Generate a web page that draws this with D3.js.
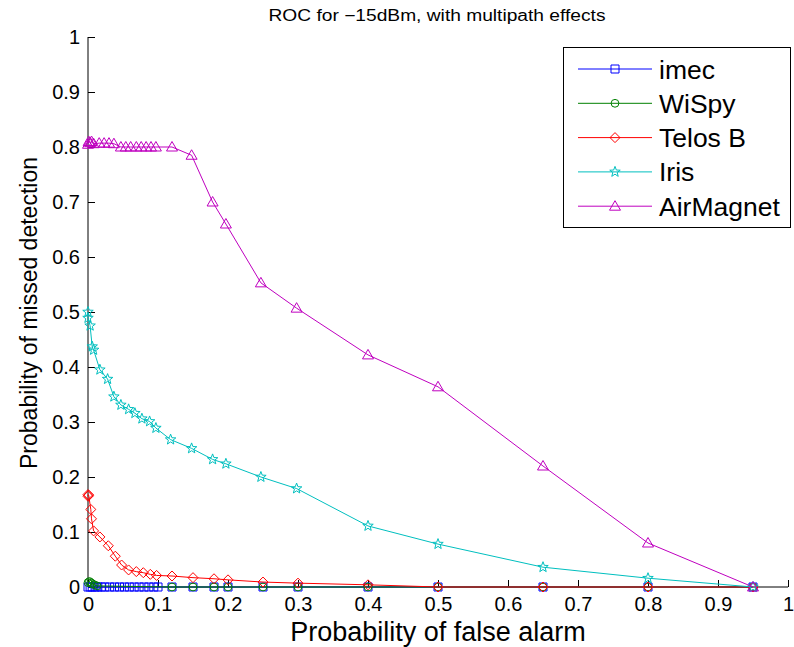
<!DOCTYPE html>
<html><head><meta charset="utf-8">
<script src="https://cdn.jsdelivr.net/npm/d3@7"></script>
<style>body{margin:0;background:#fff}svg{display:block}text{font-family:"Liberation Sans",Arial,sans-serif}</style>
</head><body><div id="chart"></div>
<script>
const seriesNames = ["imec","WiSpy","Telos B","Iris","AirMagnet"];
const seriesColors = ["#0000ff","#008000","#ff0000","#00bfbf","#bf00bf"];
const seriesMarkers = ["square","circle","diamond","star","triangle"];
const xTicks = [0,0.1,0.2,0.3,0.4,0.5,0.6,0.7,0.8,0.9,1];
const yTicks = [0,0.1,0.2,0.3,0.4,0.5,0.6,0.7,0.8,0.9,1];

const imecX = [0,0.003,0.006,0.01,0.014,0.019,0.024,0.031,0.038,0.045,0.052,0.059,0.066,0.073,0.080,0.087,0.094,0.10,0.12,0.15,0.18,0.2,0.25,0.3,0.4,0.5,0.65,0.8,0.95];
const imecY = [0,0,0,0,0,0,0,0,0,0,0,0,0,0,0,0,0,0,0,0,0,0,0,0,0,0,0,0,0];
const wispyX = [0,0.002,0.004,0.006,0.009,0.013,0.12,0.15,0.18,0.2,0.25,0.3,0.4,0.5,0.65,0.8,0.95];
const wispyY = [0.008,0.01,0.008,0.006,0.004,0.002,0,0,0,0,0,0,0,0,0,0,0];
const telosX = [0,0,0.001,0.004,0.005,0.008,0.017,0.029,0.039,0.048,0.058,0.069,0.079,0.089,0.098,0.12,0.15,0.18,0.2,0.25,0.3,0.4,0.5,0.65,0.8,0.95];
const telosY = [0.165,0.168,0.167,0.141,0.124,0.102,0.091,0.075,0.056,0.04,0.031,0.028,0.026,0.023,0.021,0.02,0.017,0.015,0.013,0.009,0.007,0.004,0,0,0,0];
const irisX = [0,0,0.003,0.006,0.008,0.017,0.028,0.037,0.047,0.058,0.067,0.077,0.088,0.097,0.118,0.148,0.178,0.197,0.247,0.298,0.4,0.5,0.65,0.8,0.95];
const irisY = [0.5,0.489,0.475,0.437,0.431,0.395,0.378,0.346,0.331,0.323,0.316,0.306,0.301,0.289,0.268,0.252,0.232,0.224,0.2,0.179,0.111,0.078,0.036,0.016,0];
const airX = [0,0.001,0.003,0.005,0.008,0.016,0.023,0.030,0.037,0.047,0.054,0.061,0.069,0.076,0.083,0.090,0.097,0.12,0.148,0.178,0.197,0.247,0.298,0.4,0.5,0.65,0.8,0.95];
const airY = [0.805,0.81,0.808,0.81,0.806,0.807,0.807,0.807,0.806,0.80,0.80,0.80,0.80,0.80,0.80,0.80,0.80,0.80,0.785,0.70,0.66,0.553,0.507,0.422,0.364,0.22,0.08,0];

const allX = [imecX,wispyX,telosX,irisX,airX];
const allY = [imecY,wispyY,telosY,irisY,airY];

const W=794,H=647;
const svg=d3.select("#chart").append("svg").attr("width",W).attr("height",H);
const x=d3.scaleLinear().domain([0,1]).range([88,788]);
const y=d3.scaleLinear().domain([0,1]).range([587,37]);

// axes
const xAxis=d3.axisBottom(x).tickValues(xTicks).tickSize(-7).tickPadding(10).tickFormat(d=>d3.format("")(d));
const yAxis=d3.axisLeft(y).tickValues(yTicks).tickSize(-7).tickPadding(8).tickFormat(d=>d3.format("")(d));
const gx=svg.append("g").attr("transform","translate(0,587)").call(xAxis);
const gy=svg.append("g").attr("transform","translate(88,0)").call(yAxis);
[gx,gy].forEach(g=>{
  g.select(".domain").attr("stroke","#000").attr("stroke-width",1);
  g.selectAll(".tick line").attr("stroke","#000");
  g.selectAll(".tick text").attr("font-size",20).attr("fill","#000").attr("font-family","Liberation Sans, Arial, sans-serif");
});
gx.selectAll(".tick text").attr("dy","0.71em");
gx.select(".domain").attr("d","M88,0H788");
gy.select(".domain").attr("d","M0,587V37");

function symbolPath(type){
  if(type==="square") return "M-4,-4H4V4H-4Z";
  if(type==="circle") return d3.symbol().type(d3.symbolCircle).size(48)();
  if(type==="diamond") return "M0,-5L5,0L0,5L-5,0Z";
  if(type==="triangle") return "M0,-5.5L5.5,4L-5.5,4Z";
  if(type==="star"){
    let p=[];for(let i=0;i<10;i++){const r=i%2?2.3:5.5;const a=-Math.PI/2+i*Math.PI/5;p.push([r*Math.cos(a),r*Math.sin(a)]);}
    return "M"+p.map(q=>q[0].toFixed(2)+","+q[1].toFixed(2)).join("L")+"Z";
  }
}

const line=d3.line().x(d=>x(d[0])).y(d=>y(d[1]));
const plot=svg.append("g");
allX.forEach((xs,i)=>{
  const pts=xs.map((v,j)=>[v,allY[i][j]]);
  const g=plot.append("g");
  g.append("path").attr("d",line(pts)).attr("fill","none").attr("stroke",seriesColors[i]).attr("stroke-width",1);
  g.selectAll("path.m").data(pts).enter().append("path").attr("class","m")
    .attr("d",symbolPath(seriesMarkers[i]))
    .attr("transform",d=>`translate(${x(d[0])},${y(d[1])})`)
    .attr("fill","none").attr("stroke",seriesColors[i]).attr("stroke-width",1);
});

// title & labels
svg.append("text").attr("x",437).attr("y",21).attr("text-anchor","middle").attr("font-size",16)
  .attr("textLength",337).attr("lengthAdjust","spacingAndGlyphs").text("ROC for \u221215dBm, with multipath effects");
svg.append("text").attr("x",438).attr("y",641).attr("text-anchor","middle").attr("font-size",27).text("Probability of false alarm");
svg.append("text").attr("transform","translate(37,313) rotate(-90)").attr("text-anchor","middle").attr("font-size",23).text("Probability of missed detection");

// legend
const lg=svg.append("g");
lg.append("rect").attr("x",563.5).attr("y",47.5).attr("width",227).attr("height",180).attr("fill","#fff").attr("stroke","#000").attr("stroke-width",1);
seriesNames.forEach((n,i)=>{
  const yy=69+i*34.3;
  lg.append("line").attr("x1",578).attr("x2",652).attr("y1",yy).attr("y2",yy).attr("stroke",seriesColors[i]);
  lg.append("path").attr("d",symbolPath(seriesMarkers[i])).attr("transform",`translate(615,${yy})`).attr("fill","none").attr("stroke",seriesColors[i]);
  lg.append("text").attr("x",659).attr("y",yy+9.5).attr("font-size",26.5).text(n);
});
</script></body></html>
